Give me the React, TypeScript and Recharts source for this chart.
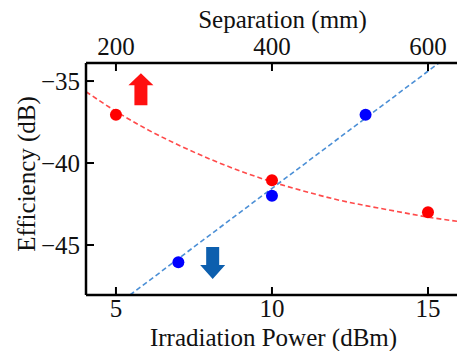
import { ComposedChart, Line, Scatter, XAxis, YAxis } from "recharts"

// measured points (bottom axis: irradiation power in dBm)
const redPower = [5, 10, 15]
const redEff = [-37.05, -41.05, -43.0]
const bluePower = [7, 10, 13]
const blueEff = [-46.05, -42.0, -37.05]

// dashed guide curves
const redFitPower = [4.04, 5, 6, 7, 8, 9, 10, 11, 12, 13, 14, 15, 15.93]
const redFitEff = [-35.65, -36.85, -37.95, -38.9, -39.75, -40.5, -41.15, -41.7, -42.2, -42.6, -42.95, -43.3, -43.55]
const blueFitPower = [5.45, 15.35]
const blueFitEff = [-48.05, -33.9]

const powerTicks = [5, 10, 15]
const separationTicks = [200, 400, 600]
const effTicks = [-45, -40, -35]

const redPts = redPower.map((x, i) => ({ x, y: redEff[i] }))
const bluePts = bluePower.map((x, i) => ({ x, y: blueEff[i] }))
const redFit = redFitPower.map((x, i) => ({ x, y: redFitEff[i] }))
const blueFit = blueFitPower.map((x, i) => ({ x, y: blueFitEff[i] }))
// arrows are placed on the separation (top) axis
const upArrow = [{ x: 232, y: -35.5 }]
const downArrow = [{ x: 324, y: -46.1 }]

const FONT = "'Liberation Serif', 'Times New Roman', serif"
const labelStyle = { fontSize: 25, fill: "#111", fontFamily: FONT }
const axisLine = { stroke: "#000", strokeWidth: 2.5 }
const tickLine = { stroke: "#000", strokeWidth: 2 }

const minus = (v: number) => String(v).replace("-", "\u2212")

function Tick({ x, y, payload, side }: any) {
  const txt = side === "left" ? minus(payload.value) : String(payload.value)
  const anchor = side === "left" ? "end" : "middle"
  const dy = side === "bottom" ? "0.71em" : side === "left" ? "0.35em" : 0
  return (
    <text x={x} y={y} dy={dy} textAnchor={anchor} fontSize={25} fill="#111" fontFamily={FONT}>
      {txt}
    </text>
  )
}

function Dot({ cx, cy, fill }: any) {
  return <circle cx={cx} cy={cy} r={6} fill={fill} />
}

function Arrow({ cx, cy, fill, up }: any) {
  // 25px wide head, 13px shaft, 32px tall
  const h = 16
  const pts = up
    ? [
        [cx, cy - h],
        [cx + 12.5, cy - h + 12],
        [cx + 6.5, cy - h + 12],
        [cx + 6.5, cy + h],
        [cx - 6.5, cy + h],
        [cx - 6.5, cy - h + 12],
        [cx - 12.5, cy - h + 12],
      ]
    : [
        [cx, cy + h],
        [cx + 12.5, cy + h - 14],
        [cx + 6.5, cy + h - 14],
        [cx + 6.5, cy - h],
        [cx - 6.5, cy - h],
        [cx - 6.5, cy + h - 14],
        [cx - 12.5, cy + h - 14],
      ]
  return <polygon points={pts.map((p) => p.join(",")).join(" ")} fill={fill} />
}

export default function App() {
  return (
    <div style={{ position: "absolute", left: 0, top: 0, background: "#fff", fontFamily: FONT }}>
      <ComposedChart width={457} height={351} margin={{ top: 0, right: 0, bottom: 0, left: 0 }}>
        <XAxis
          xAxisId="top"
          orientation="top"
          dataKey="x"
          type="number"
          domain={[161.6, 637.2]}
          ticks={separationTicks}
          allowDataOverflow
          height={63}
          axisLine={axisLine}
          tickLine={tickLine}
          tickSize={-8}
          tickMargin={16}
          tick={<Tick side="top" />}
          label={{
            value: "Separation (mm)",
            position: "insideTop",
            offset: 10,
            dx: 11,
            style: labelStyle,
          }}
        />
        <XAxis
          dataKey="x"
          type="number"
          domain={[4.04, 15.93]}
          ticks={powerTicks}
          allowDataOverflow
          height={56}
          axisLine={axisLine}
          tickLine={tickLine}
          tickSize={-8}
          tickMargin={12}
          tick={<Tick side="bottom" />}
          label={{
            value: "Irradiation Power (dBm)",
            position: "insideBottom",
            offset: 5,
            dx: 2,
            style: labelStyle,
          }}
        />
        <YAxis
          type="number"
          domain={[-48.05, -33.9]}
          ticks={effTicks}
          allowDataOverflow
          width={86}
          axisLine={axisLine}
          tickLine={tickLine}
          tickSize={-8}
          tickMargin={14}
          tick={<Tick side="left" />}
          label={{
            value: "Efficiency (dB)",
            angle: -90,
            position: "insideLeft",
            offset: 26,
            dy: -5,
            style: { ...labelStyle, textAnchor: "middle" },
          }}
        />
        <Line
          data={redFit}
          dataKey="y"
          type="monotone"
          stroke="#ff4a4a"
          strokeWidth={1.6}
          strokeDasharray="5 3"
          dot={false}
          activeDot={false}
          isAnimationActive={false}
        />
        <Line
          data={blueFit}
          dataKey="y"
          type="linear"
          stroke="#4b8fd6"
          strokeWidth={1.6}
          strokeDasharray="5 3"
          dot={false}
          activeDot={false}
          isAnimationActive={false}
        />
        <Scatter data={redPts} dataKey="y" fill="#ff0000" shape={<Dot />} isAnimationActive={false} />
        <Scatter data={bluePts} dataKey="y" fill="#0000ff" shape={<Dot />} isAnimationActive={false} />
        <Scatter xAxisId="top" data={upArrow} dataKey="y" fill="#ff1010" shape={<Arrow up />} isAnimationActive={false} />
        <Scatter xAxisId="top" data={downArrow} dataKey="y" fill="#0d5fae" shape={<Arrow />} isAnimationActive={false} />
      </ComposedChart>
    </div>
  )
}
